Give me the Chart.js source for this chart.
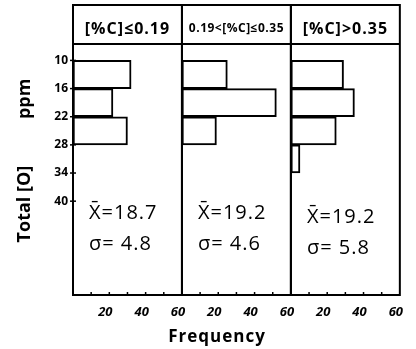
<!DOCTYPE html>
<html>
<head>
<meta charset="utf-8">
<script src="https://cdn.jsdelivr.net/npm/chart.js@4/dist/chart.umd.min.js"></script>
<style>
  html, body { margin: 0; padding: 0; background: #fff; }
  #wrap { width: 416px; height: 349px; }
</style>
</head>
<body>
<div id="wrap"><canvas id="c" width="416" height="349"></canvas></div>
<script>
// ---- data ----
const binEdges = [10, 16, 22, 28, 34];           // Total [O] ppm bin edges
const yTickLabels = [10, 16, 22, 28, 34, 40];     // ticks shown on the y axis
const panelTitles = ['[%C]\u22640.19', '0.19<[%C]\u22640.35', '[%C]>0.35'];
const freqLow = [32, 22, 30];                     // [%C] <= 0.19
const freqMid = [25, 52, 19];                     // 0.19 < [%C] <= 0.35
const freqHigh = [29, 35, 25, 5];                 // [%C] > 0.35
const meanLabels = ['X\u0304=18.7', 'X\u0304=19.2', 'X\u0304=19.2'];
const sigmaLabels = ['\u03C3= 4.8', '\u03C3= 4.6', '\u03C3= 5.8'];
const xTickLabels = [20, 40, 60];

function binPoints(freqs) {
  return freqs.map((f, i) => ({ x: f, y: (binEdges[i] + binEdges[i + 1]) / 2 }));
}

const FONT = "'Open Sans', 'DejaVu Sans', sans-serif";
const axisIds = ['x1', 'x2', 'x3'];
const series = [freqLow, freqMid, freqHigh];

const datasets = series.map((s, i) => ({
  data: binPoints(s),
  xAxisID: axisIds[i],
  yAxisID: 'y',
  backgroundColor: '#ffffff',
  borderColor: '#000000',
  borderWidth: 2,
  borderSkipped: false,
  grouped: false,
  barPercentage: 1,
  categoryPercentage: 1
}));

function xAxis() {
  return {
    type: 'linear',
    position: 'bottom',
    stack: 'panels',
    stackWeight: 1,
    min: 0,
    max: 60,
    offset: false,
    grid: { display: false, drawTicks: false },
    border: { display: false },
    afterFit: s => { s.height = 30; },
    afterBuildTicks: s => { s.ticks = xTickLabels.map(v => ({ value: v })); },
    ticks: {
      padding: 9,
      labelOffset: -4,
      color: '#000',
      maxRotation: 0,
      font: { family: FONT, size: 13, weight: 'bold', style: 'italic' }
    }
  };
}

const framePlugin = {
  id: 'frames',
  afterDatasetsDraw(chart) {
    const ctx = chart.ctx;
    const area = chart.chartArea;
    const yS = chart.scales.y;
    const headerTop = 5;
    ctx.save();
    ctx.strokeStyle = '#000';
    ctx.fillStyle = '#000';
    ctx.lineWidth = 2;
    axisIds.forEach((id, i) => {
      const s = chart.scales[id];
      ctx.strokeRect(s.left, headerTop, s.right - s.left, area.bottom - headerTop);
      ctx.beginPath();
      ctx.moveTo(s.left, area.top);
      ctx.lineTo(s.right, area.top);
      ctx.stroke();
      ctx.lineWidth = 1.5;
      for (let v = 10; v < 60; v += 10) {
        const px = s.getPixelForValue(v);
        ctx.beginPath();
        ctx.moveTo(px, area.bottom);
        ctx.lineTo(px, area.bottom - 3);
        ctx.stroke();
      }
      ctx.lineWidth = 2;
      const cx = (s.left + s.right) / 2;
      ctx.textAlign = 'center';
      ctx.textBaseline = 'middle';
      if (i === 1) {
        ctx.font = `bold 12px ${FONT}`;
        ctx.letterSpacing = '0.5px';
      } else {
        ctx.font = `bold 16px ${FONT}`;
        ctx.letterSpacing = '1px';
      }
      ctx.fillText(panelTitles[i], cx, 29);
      ctx.textAlign = 'left';
      ctx.font = `20px ${FONT}`;
      ctx.letterSpacing = '1px';
      const dy = i === 2 ? 4 : 0;
      ctx.fillText(meanLabels[i], s.left + 16, yS.getPixelForValue(42.6) + dy);
      ctx.fillText(sigmaLabels[i], s.left + 16, yS.getPixelForValue(49.1) + dy);
      ctx.letterSpacing = '0px';
    });
    ctx.lineWidth = 1.5;
    yTickLabels.forEach(v => {
      const py = yS.getPixelForValue(v);
      ctx.beginPath();
      ctx.moveTo(area.left - 3, py);
      ctx.lineTo(area.left + 3, py);
      ctx.stroke();
    });
    ctx.textAlign = 'center';
    ctx.textBaseline = 'middle';
    ctx.font = `bold 17px ${FONT}`;
    ctx.letterSpacing = '1px';
    ctx.fillText('Frequency', 217, 337);
    ctx.restore();
  }
};

new Chart(document.getElementById('c'), {
  type: 'bar',
  data: { datasets },
  plugins: [framePlugin],
  options: {
    responsive: false,
    animation: false,
    indexAxis: 'y',
    layout: { padding: { top: 44, right: 11, bottom: 24, left: 0 } },
    plugins: { legend: { display: false }, tooltip: { enabled: false } },
    scales: {
      x1: xAxis(),
      x2: xAxis(),
      x3: xAxis(),
      y: {
        type: 'linear',
        position: 'left',
        reverse: true,
        offset: false,
        min: 6.5,
        max: 60,
        grid: { display: false, drawTicks: false, offset: false },
        border: { display: false },
        afterFit: s => { s.width = 73; },
        afterBuildTicks: s => { s.ticks = yTickLabels.map(v => ({ value: v })); },
        ticks: {
          padding: 5,
          color: '#000',
          font: { family: FONT, size: 12, weight: 'bold' }
        },
        title: {
          display: true,
          text: '\u2002\u2002Total [O]          ppm',
          color: '#000',
          padding: { top: 14, bottom: 0 },
          font: { family: FONT, size: 18, weight: 'bold' }
        }
      }
    }
  }
});
</script>
</body>
</html>
